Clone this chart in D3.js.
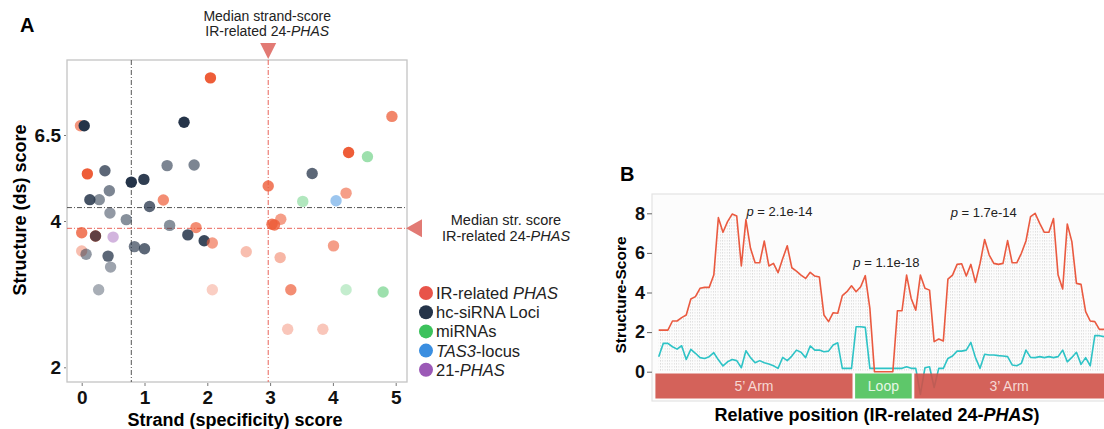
<!DOCTYPE html>
<html>
<head>
<meta charset="utf-8">
<script src="https://cdn.jsdelivr.net/npm/d3@7"></script>
<style>
  body { margin: 0; background: #fff; }
  svg text { font-family: "Liberation Sans", Arial, sans-serif; }
</style>
</head>
<body>
<svg id="fig" width="1104" height="429"></svg>
<script>
// ---- panel A data (one entry per locus) ----
const strandScore = [2.05, -0.02, 0.04, 1.63, 0.09, 0.37, 1.36, 1.79, 0.79, 0.99,
  0.44, 0.13, 0.28, 1.30, 1.08, 0.45, 0.71, 1.40, 1.82, 4.94,
  4.25, 4.55, 3.67, 2.97, 4.21, 3.52, 4.05, 3.17, 3.03, 3.07,
  0.00, 0.22, 0.22, 0.50, 0.84, 1.00, 0.00, 0.07, 0.42, 0.46,
  0.27, 1.69, 1.95, 2.08, 2.08, 2.62, 4.01, 3.16, 3.33, 4.21,
  4.80, 3.28, 3.84];
const structScore = [8.16, 6.77, 6.77, 6.87, 5.37, 5.46, 5.61, 5.63, 5.13, 5.21,
  4.88, 4.62, 4.62, 4.61, 4.42, 4.23, 4.04, 3.94, 3.91, 7.04,
  5.99, 5.87, 5.38, 5.02, 4.81, 4.57, 4.59, 4.05, 3.955, 3.945,
  3.84, 3.795, 3.795, 3.78, 3.65, 3.62, 3.59, 3.545, 3.52, 3.37,
  3.06, 3.81, 3.73, 3.70, 3.06, 3.58, 3.66, 3.50, 3.06, 3.06,
  3.03, 2.52, 2.52];
// 0 IR-related PHAS, 1 hc-siRNA, 2 miRNA, 3 TAS3, 4 21-PHAS
const locusType = [0, 0, 1, 1, 0, 1, 1, 1, 1, 1,
  1, 1, 1, 0, 1, 1, 1, 1, 0, 0,
  0, 2, 1, 0, 0, 2, 3, 0, 0, 0,
  0, 0, 1, 4, 1, 1, 0, 1, 1, 1,
  1, 1, 1, 0, 0, 0, 0, 0, 0, 2,
  2, 0, 0];
const locusAlpha = [1, 0.65, 1, 1, 1, 0.75, 0.6, 0.6, 1, 0.95,
  0.6, 0.85, 0.55, 0.7, 0.75, 0.5, 0.55, 0.55, 0.7, 0.75,
  1, 0.5, 0.75, 0.8, 0.6, 0.4, 0.5, 0.6, 0.8, 0.8,
  0.8, 1, 0.7, 0.45, 0.65, 0.75, 0.4, 0.5, 0.75, 0.45,
  0.4, 0.85, 0.9, 0.6, 0.3, 0.4, 0.6, 0.45, 0.7, 0.3,
  0.5, 0.35, 0.35];

const typeColors = ["#ee5d38", "#253449", "#3cc25c", "#3a8ee0", "#9b59b6"];
const typeLabels = [
  [["IR-related ", false], ["PHAS", true]],
  [["hc-siRNA Loci", false]],
  [["miRNAs", false]],
  [["TAS3", true], ["-locus", false]],
  [["21-", false], ["PHAS", true]]
];

const medianStrandAll = 0.79, medianStructAll = 4.39;
const medianStrandIR = 2.97, medianStructIR = 3.90;
const xTicksA = [0, 1, 2, 3, 4, 5];
const yTicksA = [2, 4, 6.5];

// ---- panel B data (position index along the hairpin) ----
const scoreIR = [2.10, 2.10, 2.10, 2.56, 2.56, 2.73, 2.86, 3.67, 3.79, 4.21,
  4.26, 4.26, 4.88, 7.78, 7.04, 7.58, 7.96, 7.86, 5.34, 7.68,
  6.23, 5.50, 5.50, 6.60, 5.34, 5.47, 5.00, 5.70, 6.36, 5.25,
  5.08, 4.88, 4.71, 5.02, 4.83, 4.78, 2.86, 2.53, 2.98, 2.95,
  3.84, 4.04, 4.34, 4.04, 4.29, 4.85, 3.20, 0, 0, 0,
  0, 0, 3.08, 3.08, 4.88, 3.70, 3.11, 4.88, 4.21, 4.12,
  1.52, 1.65, 1.55, 4.68, 4.88, 5.42, 5.45, 4.83, 5.42, 4.51,
  5.47, 6.68, 5.89, 5.47, 5.42, 5.47, 6.62, 5.50, 5.50, 5.98,
  6.60, 7.83, 8.00, 7.49, 7.04, 7.04, 7.74, 4.88, 4.18, 7.46,
  6.57, 4.46, 4.41, 3.03, 2.56, 2.53, 2.14, 2.14];
const scoreOther = [0.76, 1.43, 1.43, 1.26, 1.14, 1.31, 0.62, 1.13, 0.93, 0.71,
  0.67, 0.76, 0.96, 0.60, 0.29, 0.50, 0.62, 0.56, 0.20, 1.06,
  0.71, 0.45, 0.56, 0.45, 0.39, 0.30, 0.17, 0.72, 0.56, 0.79,
  1.09, 0.98, 0.71, 1.30, 1.09, 1.09, 1.01, 1.04, 1.35, 1.46,
  0.17, 0.17, 0.17, 2.27, 2.27, 2.24, 0.17, 0.17, 0.17, 0.17,
  0.17, 0.17, 0.17, 0.17, 0.25, 0.17, 0.17, -1.15, 0.20, 0.25,
  -0.80, 0.17, 0.17, 0.67, 0.79, 1.04, 1.04, 1.09, 1.48, 0.71,
  0.17, 0.88, 0.84, 0.84, 0.81, 0.79, 0.76, 0.34, 0.30, 0.42,
  1.09, 0.72, 0.71, 0.76, 0.71, 0.76, 0.71, 0.76, 1.09, 0.50,
  0.72, 0.98, 0.37, 0.71, 0.30, 1.82, 1.82, 1.77];
const armNames = ["5\u2019 Arm", "Loop", "3\u2019 Arm"];
const armStart = [-1, 42.5, 55.4];
const armEnd = [42.5, 55.4, 99];
const armColors = ["#cf5148", "#4cc15a", "#cf5148"];
const pText = ["2.1e-14", "1.1e-18", "1.7e-14"];
const pAtIndex = [19.1, 42.4, 63.6];
const pAtScore = [7.86, 5.3, 7.81];
const yTicksB = [0, 2, 4, 6, 8];

const svg = d3.select('#fig');
const defs = svg.append('defs');

// ================= panel A =================
const x = d3.scaleLinear().domain([0, 5]).range([81.7, 395.7]);
const y = d3.scaleLinear().domain([2, 4, 6.5]).range([367.3, 221, 135]);
const boxA = { left: 67, top: 60, right: 407, bottom: 382 };

svg.append('text').attr('x', 20).attr('y', 32)
  .style('font-size', '20px').style('font-weight', 'bold').text('A');

svg.append('rect')
  .attr('x', boxA.left).attr('y', boxA.top)
  .attr('width', boxA.right - boxA.left).attr('height', boxA.bottom - boxA.top)
  .attr('fill', '#fff').attr('stroke', '#c4c4c4').attr('stroke-width', 1.3);

const axA = svg.append('g');
axA.append('g')
  .attr('transform', `translate(${boxA.left - 1},0)`)
  .call(d3.axisLeft(y).tickValues(yTicksA).tickFormat(d => d).tickSize(2).tickPadding(3))
  .call(g => g.select('.domain').remove());
axA.append('g')
  .attr('transform', `translate(0,${boxA.bottom + 1})`)
  .call(d3.axisBottom(x).tickValues(xTicksA).tickFormat(d3.format('d')).tickSize(3).tickPadding(5))
  .call(g => g.select('.domain').remove());
axA.selectAll('.tick line').attr('stroke', '#777');
axA.selectAll('.tick text')
  .attr('fill', '#111')
  .style('font-size', '19px').style('font-weight', 'bold')
  .style('font-family', '"Liberation Sans", Arial, sans-serif');

// median lines
const dashDot = '5,2,1,2';
svg.append('line')
  .attr('x1', x(medianStrandAll)).attr('x2', x(medianStrandAll))
  .attr('y1', boxA.top).attr('y2', boxA.bottom)
  .attr('stroke', '#555').attr('stroke-dasharray', dashDot);
svg.append('line')
  .attr('x1', boxA.left).attr('x2', boxA.right)
  .attr('y1', y(medianStructAll)).attr('y2', y(medianStructAll))
  .attr('stroke', '#555').attr('stroke-dasharray', dashDot);
svg.append('line')
  .attr('x1', x(medianStrandIR)).attr('x2', x(medianStrandIR))
  .attr('y1', boxA.top).attr('y2', boxA.bottom)
  .attr('stroke', '#e8645a').attr('stroke-dasharray', dashDot);
svg.append('line')
  .attr('x1', boxA.left).attr('x2', boxA.right)
  .attr('y1', y(medianStructIR)).attr('y2', y(medianStructIR))
  .attr('stroke', '#e8645a').attr('stroke-dasharray', dashDot);

// points
svg.append('g').selectAll('circle')
  .data(strandScore.map((s, i) => ({ s, v: structScore[i], t: locusType[i], a: locusAlpha[i] })))
  .enter().append('circle')
  .attr('cx', d => x(d.s))
  .attr('cy', d => y(d.v))
  .attr('r', 5.7)
  .attr('fill', d => typeColors[d.t])
  .attr('fill-opacity', d => d.a);

// triangles marking the IR medians
const triColor = '#e27a74';
const tx = x(medianStrandIR);
svg.append('path')
  .attr('d', `M${tx - 8},${43} L${tx + 8},${43} L${tx},${59} Z`)
  .attr('fill', triColor);
const ty = y(medianStructIR);
svg.append('path')
  .attr('d', `M${boxA.right - 1},${ty} L${boxA.right + 15},${ty - 9} L${boxA.right + 15},${ty + 9} Z`)
  .attr('fill', triColor);

function twoLine(cx, y1, y2, first, size) {
  const g = svg.append('g').style('font-size', size).attr('fill', '#222');
  g.append('text').attr('x', cx).attr('y', y1).attr('text-anchor', 'middle').text(first);
  const t = g.append('text').attr('x', cx).attr('y', y2).attr('text-anchor', 'middle');
  t.append('tspan').text('IR-related 24-');
  t.append('tspan').style('font-style', 'italic').text('PHAS');
}
twoLine(tx - 1, 21, 36, 'Median strand-score', '14px');
twoLine(506, 225, 241, 'Median str. score', '14.5px');

// legend
const leg = svg.append('g').attr('transform', 'translate(426,293)');
typeLabels.forEach((parts, i) => {
  const row = leg.append('g').attr('transform', `translate(0,${i * 19.2})`);
  row.append('circle').attr('r', 7).attr('fill', i === 0 ? '#e8544a' : typeColors[i]);
  const t = row.append('text').attr('x', 10).attr('y', 6).style('font-size', '16.5px').attr('fill', '#222');
  parts.forEach(p => t.append('tspan').style('font-style', p[1] ? 'italic' : 'normal').text(p[0]));
});

svg.append('text')
  .attr('x', 235).attr('y', 426)
  .attr('text-anchor', 'middle')
  .style('font-size', '18px').style('font-weight', 'bold')
  .text('Strand (specificity) score');
svg.append('text')
  .attr('transform', 'translate(26,210) rotate(-90)')
  .attr('text-anchor', 'middle')
  .style('font-size', '18px').style('font-weight', 'bold')
  .text('Structure (ds) score');

// ================= panel B =================
const xB = d3.scaleLinear().domain([0, 97]).range([658.7, 1104]);
const yB = d3.scaleLinear().domain([0, 8]).range([371.7, 213.3]);

svg.append('text').attr('x', 620).attr('y', 181)
  .style('font-size', '20px').style('font-weight', 'bold').text('B');

svg.append('rect')
  .attr('x', 652).attr('y', 194).attr('width', 470).attr('height', 207)
  .attr('fill', '#fcfcfc').attr('stroke', '#e3e3e3').attr('stroke-width', 1.2);

const hatch = defs.append('pattern')
  .attr('id', 'hatch').attr('patternUnits', 'userSpaceOnUse')
  .attr('width', 2.3).attr('height', 3);
hatch.append('rect').attr('width', 0.7).attr('height', 1.6).attr('fill', '#d9d9d9');

const area = d3.area()
  .x((d, i) => xB(i))
  .y0(yB(0))
  .y1(d => yB(d));
svg.append('path')
  .datum(scoreIR)
  .attr('d', area)
  .attr('fill', 'url(#hatch)');

const line = d3.line()
  .x((d, i) => xB(i))
  .y(d => yB(d));

svg.append('path')
  .datum(scoreOther)
  .attr('d', line)
  .attr('fill', 'none')
  .attr('stroke', '#2ec3c6')
  .attr('stroke-width', 1.6)
  .attr('stroke-linejoin', 'round');
svg.append('path')
  .datum(scoreIR)
  .attr('d', line)
  .attr('fill', 'none')
  .attr('stroke', '#ea5a40')
  .attr('stroke-width', 1.6)
  .attr('stroke-linejoin', 'round');

// arm bars (drawn over the lines, a little transparent)
const armG = svg.append('g');
armNames.forEach((name, i) => {
  const x0 = xB(armStart[i]) + 1.3;
  const x1 = Math.min(xB(armEnd[i]) - 1.3, 1120);
  armG.append('rect')
    .attr('x', x0).attr('y', 373.5)
    .attr('width', x1 - x0).attr('height', 25)
    .attr('fill', armColors[i]).attr('fill-opacity', 0.9);
  const cx = (x0 + Math.min(x1, 1104)) / 2;
  armG.append('text')
    .attr('x', cx).attr('y', 391)
    .attr('text-anchor', 'middle')
    .style('font-size', '14px')
    .attr('fill', i === 1 ? '#e6f7e6' : '#f6d8d3')
    .text(name);
});

const axB = svg.append('g')
  .attr('transform', 'translate(652,0)')
  .call(d3.axisLeft(yB).tickValues(yTicksB).tickSize(5).tickPadding(2))
  .call(g => g.select('.domain').remove());
axB.selectAll('.tick line').attr('stroke', '#666');
axB.selectAll('.tick text')
  .attr('fill', '#111')
  .style('font-size', '18px').style('font-weight', 'bold')
  .style('font-family', '"Liberation Sans", Arial, sans-serif');

pText.forEach((t, i) => {
  const el = svg.append('text')
    .attr('x', xB(pAtIndex[i])).attr('y', yB(pAtScore[i]))
    .style('font-size', '13px').attr('fill', '#222');
  el.append('tspan').style('font-style', 'italic').text('p');
  el.append('tspan').text(' = ' + t);
});

svg.append('text')
  .attr('transform', 'translate(626,295) rotate(-90)')
  .attr('text-anchor', 'middle')
  .style('font-size', '15.5px').style('font-weight', 'bold')
  .text('Structure-Score');

const xt = svg.append('text')
  .attr('x', 877).attr('y', 421)
  .attr('text-anchor', 'middle')
  .style('font-size', '18px').style('font-weight', 'bold');
xt.append('tspan').text('Relative position (IR-related 24-');
xt.append('tspan').style('font-style', 'italic').text('PHAS');
xt.append('tspan').text(')');
</script>
</body>
</html>
